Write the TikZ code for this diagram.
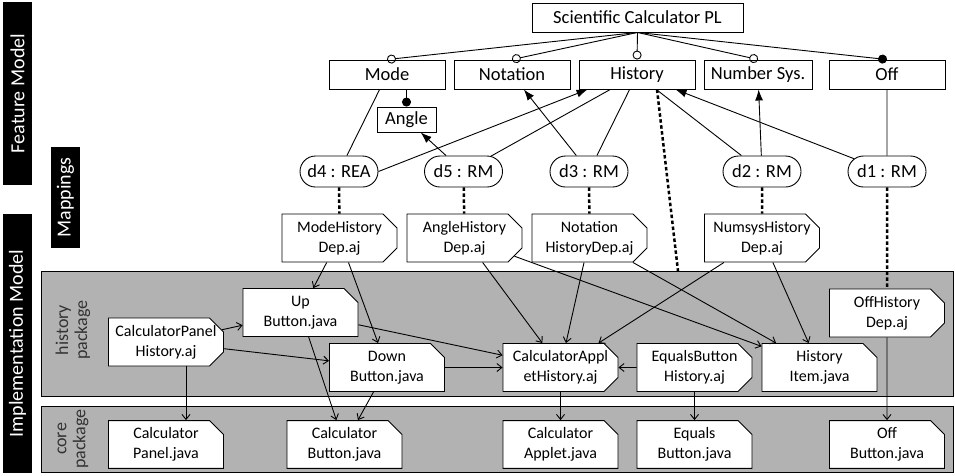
\documentclass[tikz,border=0pt]{standalone}
\usepackage{fontspec}
\setmainfont{Carlito}
\usetikzlibrary{arrows.meta,shapes.misc}

\begin{document}
\begin{tikzpicture}[x=1pt,y=-1pt,line width=0.9pt]
		\useasboundingbox (0,0) rectangle (955,475);
		\tikzset{band/.style = {fill=black, text=white, rotate=90, minimum height=29, inner sep=0pt, font=\fontsize{20}{22}\selectfont}}
		\tikzset{package/.style = {draw, fill=black!30, minimum width=912, inner sep=0pt}}
		\tikzset{packname/.style = {rotate=90, align=center, text=black!80, font=\fontsize{18}{19}\selectfont}}
		\tikzset{feature/.style = {draw, minimum width=116, minimum height=29, inner sep=0pt, font=\fontsize{18.5}{20}\selectfont}}
		\tikzset{mapping/.style = {draw, rounded rectangle, minimum width=78, minimum height=31, inner sep=0pt, font=\fontsize{18.5}{20}\selectfont}}
		\tikzset{class/.style = {draw, fill=white, chamfered rectangle, chamfered rectangle corners=north east, chamfered rectangle sep=7pt, minimum width=115, minimum height=48, inner sep=0pt, align=center, font=\fontsize{16}{20}\selectfont}}
		\tikzset{aspect/.style = {class, chamfered rectangle corners={north east,south east}}}
		
		\node[band, minimum width=183] (fm) at (17.5,  93.5) {Feature Model};
		\node[band, minimum width=101] (mp) at (65.5, 197.5) {Mappings};
		\node[band, minimum width=259] (im) at (17.5, 343.5) {Implementation Model};
		
		\node[package, minimum height=125] (hp) at (497, 333.5) {};
		\node[package, minimum height=66]  (cp) at (497,   439) {};
		\node[packname] (hn) at (73, 330) {history\\package};
		\node[packname] (cn) at (73, 439) {core\\package};
		\coordinate (hpin) at (678, 271);
		
		\node[feature, minimum width=211]  (1) at (637.5,  17.5) {Scientific Calculator PL};
		\node[feature]                     (2) at (  387,  74.5) {Mode};
		\node[feature]                     (3) at (  512,  74.5) {Notation};
		\node[feature]                     (4) at (  637,  74.5) {History};
		\node[feature, minimum width=108]  (5) at (  758,  74.5) {Number Sys.};
		\node[feature]                     (6) at (  887,  74.5) {Off};
		\node[feature, minimum width=59, minimum height=25] (7) at (406.5, 119.5) {Angle};
		
		\node[mapping]  (8) at (  339, 171.5) {d4 : REA};
		\node[mapping]  (9) at (463.5, 171.5) {d5 : RM};
		\node[mapping] (10) at (  589, 171.5) {d3 : RM};
		\node[mapping] (11) at (  762, 171.5) {d2 : RM};
		\node[mapping] (12) at (  887, 171.5) {d1 : RM};
		
		\node[aspect] (13) at (339.5,   238) {ModeHistory\\Dep.aj};
		\node[aspect] (14) at (464.5,   238) {AngleHistory\\Dep.aj};
		\node[aspect] (15) at (589.5,   238) {Notation\\HistoryDep.aj};
		\node[aspect] (16) at (  762,   238) {NumsysHistory\\Dep.aj};
		\node[aspect] (17) at (  887,   313) {OffHistory\\Dep.aj};
		\node[aspect] (18) at (  166,   342) {CalculatorPanel\\History.aj};
		\node[class]  (19) at (300.5, 312.5) {Up\\Button.java};
		\node[class]  (20) at (  387, 367.5) {Down\\Button.java};
		\node[aspect] (21) at (560.5, 367.5) {CalculatorAppl\\etHistory.aj};
		\node[aspect] (22) at (694.5, 367.5) {EqualsButton\\History.aj};
		\node[class]  (23) at (819.5, 367.5) {History\\Item.java};
		
		\node[class, minimum height=47] (24) at (  166, 444.5) {Calculator\\Panel.java};
		\node[class, minimum height=47] (25) at (344.5, 444.5) {Calculator\\Button.java};
		\node[class, minimum height=47] (26) at (560.5, 444.5) {Calculator\\Applet.java};
		\node[class, minimum height=47] (27) at (694.5, 444.5) {Equals\\Button.java};
		\node[class, minimum height=47] (28) at (  887, 444.5) {Off\\Button.java};
		
		\tikzset{edge/.style = {-{Circle[open,length=9pt]}}}
		\draw[edge] (1.south) to (2.north);
		\draw[edge] (1.south) to (3.north);
		\draw[edge] (1.south) to (4.north);
		\draw[edge] (1.south) to (5.north);
		\tikzset{edge/.style = {-{Circle[length=9pt]}}}
		\draw[edge] (1.south) to (6.north);
		\draw[edge] (2.south -| 7.north) to (7.north);
		
		\tikzset{edge/.style = {}}
		\draw[edge]  (8) to  (2);
		\draw[edge]  (9) to  (4);
		\draw[edge] (10) to  (4);
		\draw[edge] (11) to  (4);
		\draw[edge] (12) to  (6);
		
		\tikzset{edge/.style = {-{Latex[length=11pt,width=8pt]}}}
		\draw[edge] (8.east) to ([xshift=9]4.south west);
		\draw[edge]  (9) to  (7);
		\draw[edge] (10) to  (3);
		\draw[edge] (11) to  (5);
		\draw[edge] (12) to  (4);
		
		\tikzset{edge/.style = {line width=2.5pt, dash pattern=on 3.5pt off 2.5pt}}
		\draw[edge]  (8) to (13);
		\draw[edge]  (9) to (14);
		\draw[edge] (10) to (15);
		\draw[edge] (11) to (16);
		\draw[edge] (12) to (17);
		\draw[edge] ([xshift=20]4.south) to (hpin);
		
		\tikzset{edge/.style = {-{Straight Barb[length=5pt,width=8pt]}}}
		\draw[edge] (13) to (19);
		\draw[edge] (13) to (20);
		\draw[edge] (14) to (21);
		\draw[edge] (14) to (23);
		\draw[edge] (15) to (21);
		\draw[edge] (15) to (23);
		\draw[edge] (16) to (21);
		\draw[edge] (16) to (23);
		\draw[edge] (18) to (19);
		\draw[edge] (18) to (20);
		\draw[edge] (19) to (21);
		\draw[edge] (20) to (21);
		\draw[edge] (22) to (21);
		\draw[edge] ([xshift=20]18.south) to ([xshift=20]24.north);
		\draw[edge] (19) to (25);
		\draw[edge] (20) to (25);
		\draw[edge] (21) to (26);
		\draw[edge] (22) to (27);
		\draw[edge] (17) to (28);
		\end{tikzpicture}
\end{document}
